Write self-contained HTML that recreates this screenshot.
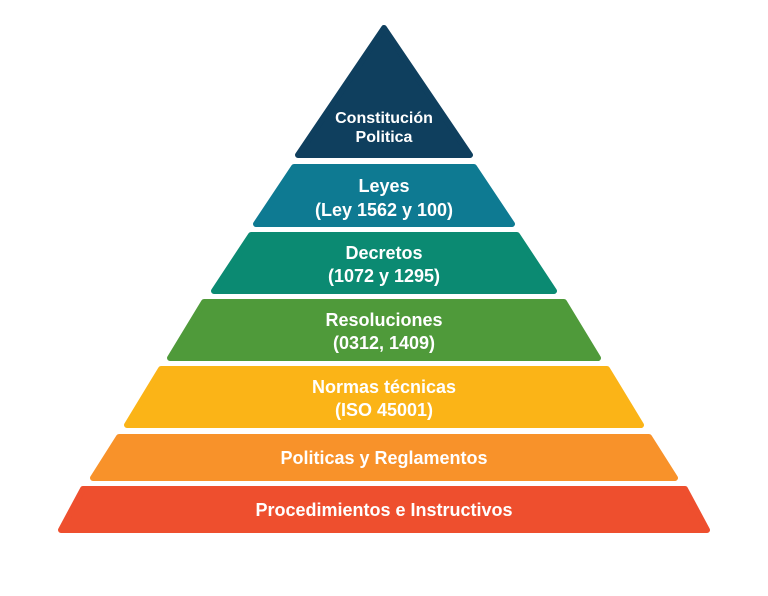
<!DOCTYPE html>
<html><head><meta charset="utf-8"><style>
html,body{margin:0;padding:0;background:#fff;}
svg{display:block}
text{font-family:"Liberation Sans",sans-serif;font-weight:bold;fill:#fff;text-anchor:middle}
</style></head><body>
<svg width="768" height="596" viewBox="0 0 768 596">
<g stroke-linejoin="round" stroke-width="6">
<polygon points="384,28 470,155 298,155" fill="#0f3f5e" stroke="#0f3f5e"/>
<polygon points="294,167 474,167 512,224 256,224" fill="#0e7a92" stroke="#0e7a92"/>
<polygon points="251,235 517,235 554,291 214,291" fill="#0b8a72" stroke="#0b8a72"/>
<polygon points="204,302 564,302 598,358 170,358" fill="#4f9a3a" stroke="#4f9a3a"/>
<polygon points="161,369 607,369 641,425 127,425" fill="#fbb417" stroke="#fbb417"/>
<polygon points="119,437 649,437 675,478 93,478" fill="#f8922a" stroke="#f8922a"/>
<polygon points="83,489 685,489 707,530 61,530" fill="#ee4f2e" stroke="#ee4f2e"/>
</g>
<g font-size="16">
<text x="384" y="123">Constitución</text>
<text x="384" y="142">Politica</text>
</g>
<g font-size="18">
<text x="384" y="192">Leyes</text>
<text x="384" y="216">(Ley 1562 y 100)</text>
<text x="384" y="259">Decretos</text>
<text x="384" y="282">(1072 y 1295)</text>
<text x="384" y="326">Resoluciones</text>
<text x="384" y="349">(0312, 1409)</text>
<text x="384" y="393">Normas técnicas</text>
<text x="384" y="416">(ISO 45001)</text>
<text x="384" y="464">Politicas y Reglamentos</text>
<text x="384" y="516">Procedimientos e Instructivos</text>
</g>
</svg>
</body></html>
